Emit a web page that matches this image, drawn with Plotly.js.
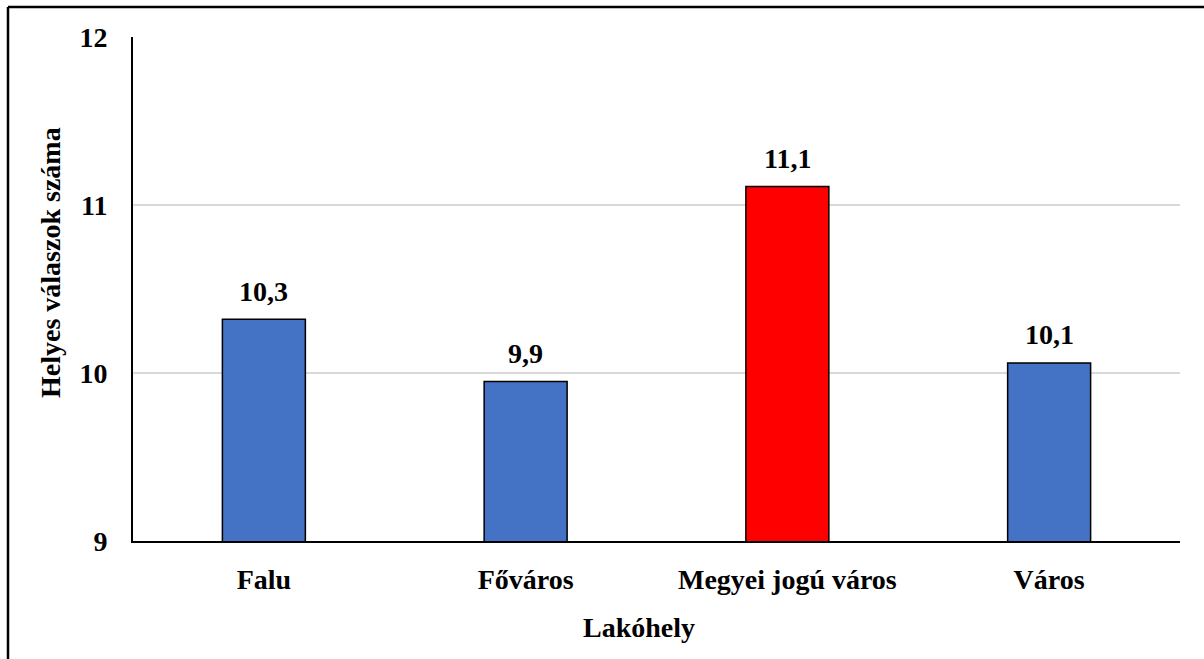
<!DOCTYPE html>
<html>
<head>
<meta charset="utf-8">
<script src="https://cdn.plot.ly/plotly-3.0.1.min.js"></script>
<style>
html, body { margin: 0; padding: 0; background: #fff; }
#chart { width: 1204px; height: 659px; }
</style>
</head>
<body>
<div id="chart"></div>
<script>
const categories = ["Falu", "Főváros", "Megyei jogú város", "Város"];
const values = [10.32, 9.95, 11.11, 10.06];
const barColors = ["#4472C4", "#4472C4", "#FF0000", "#4472C4"];
const yTicks = [9, 10, 11, 12];
const yTitle = "Helyes válaszok száma";
const xTitle = "Lakóhely";

const FONT = "'Liberation Serif', 'Times New Roman', serif";
const FS = 28;

const W = 1204, H = 659;
const margin = { l: 133, r: 24, t: 37, b: 118 };
const pw = W - margin.l - margin.r;
const ph = H - margin.t - margin.b;
const px = v => (v - margin.l) / pw;           // pixel x -> paper x
const py = v => (H - margin.b - v) / ph;       // pixel y -> paper y
// outer frame (top & left visible in reference)
const fx0 = px(8);
const fy1 = py(7);

const trace = {
  type: "bar",
  x: categories,
  y: values,
  base: 0,
  width: 0.317,
  marker: { color: barColors, line: { color: "#000", width: 1.5 } },
  hoverinfo: "skip"
};

const titleFont = { family: FONT, size: FS, color: "#000", weight: "bold" };

const annotations = categories.map((c, i) => ({
  x: c,
  y: values[i],
  xref: "x",
  yref: "y",
  text: values[i].toFixed(1).replace(".", ","),
  showarrow: false,
  yanchor: "middle",
  yshift: 28,
  font: titleFont
})).concat([
  { xref: "paper", yref: "paper", x: px(50), y: py(263), text: yTitle, textangle: -90,
    showarrow: false, xanchor: "center", yanchor: "middle", font: titleFont },
  { xref: "paper", yref: "paper", x: px(638.5), y: py(627), text: xTitle,
    showarrow: false, xanchor: "center", yanchor: "middle", font: titleFont }
]);

const layout = {
  width: W,
  height: H,
  margin: margin,
  paper_bgcolor: "#fff",
  plot_bgcolor: "#fff",
  showlegend: false,
  font: { family: FONT, size: FS, color: "#000", weight: "bold" },
  xaxis: {
    type: "category",
    range: [-0.5, 3.5],
    showline: true,
    linecolor: "#000",
    linewidth: 2,
    ticks: "",
    showgrid: false,
    ticklabelstandoff: 12,
    tickfont: { family: FONT, size: FS, color: "#000", weight: "bold" },
    fixedrange: true
  },
  yaxis: {
    range: [9, 12],
    tickvals: yTicks,
    ticktext: yTicks.map(String),
    showline: true,
    linecolor: "#000",
    linewidth: 2,
    ticks: "",
    showgrid: true,
    gridcolor: "#d9d9d9",
    gridwidth: 1.5,
    zeroline: false,
    ticklabelstandoff: 18,
    tickfont: { family: FONT, size: FS, color: "#000", weight: "bold" },
    fixedrange: true
  },
  annotations: annotations,
  shapes: [
    { type: "line", xref: "paper", yref: "paper", x0: fx0, x1: 1.2, y0: fy1, y1: fy1, line: { color: "#000", width: 2.5 } },
    { type: "line", xref: "paper", yref: "paper", x0: fx0, x1: fx0, y0: -0.5, y1: fy1, line: { color: "#000", width: 2.5 } }
  ]
};

Plotly.newPlot("chart", [trace], layout, { displayModeBar: false, staticPlot: true });
</script>
</body>
</html>
